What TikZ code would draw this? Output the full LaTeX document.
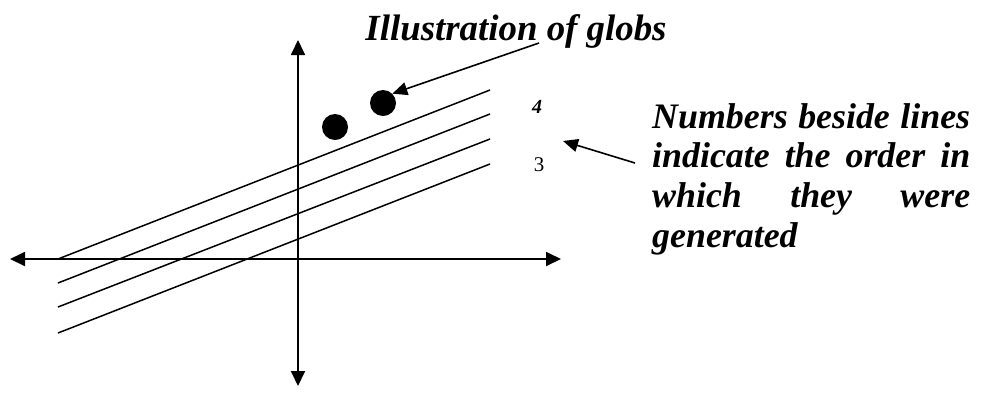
\documentclass[tikz,border=0pt]{standalone}
\usepackage{fontspec}
\setmainfont{Liberation Serif}
\usetikzlibrary{arrows.meta}
\begin{document}
\begin{tikzpicture}[x=1bp,y=-1bp,
  axis/.style={line width=1.8bp,-{Triangle[length=15bp,width=14bp]}},
  gline/.style={line width=1.5bp},
  pointer/.style={line width=1.6bp,-{Triangle[length=15bp,width=13bp]}},
  glob/.style={circle,fill=black,minimum size=26bp,inner sep=0pt}]
\useasboundingbox (0,0) rectangle (985,392);
% axes
\coordinate (O) at (298,259);
\coordinate (xl) at (10,259);
\coordinate (xr) at (561,259);
\coordinate (yt) at (298,40);
\coordinate (yb) at (298,386);
\draw[axis] (O) -- (xl);
\draw[axis] (O) -- (xr);
\draw[axis] (O) -- (yt);
\draw[axis] (O) -- (yb);
% lines
\coordinate (a1) at (58,259);  \coordinate (b1) at (490,90);
\coordinate (a2) at (58,283);  \coordinate (b2) at (490,114);
\coordinate (a3) at (58,307);  \coordinate (b3) at (490,139);
\coordinate (a4) at (58,333);  \coordinate (b4) at (490,164);
\draw[gline] (a1) -- (b1);
\draw[gline] (a2) -- (b2);
\draw[gline] (a3) -- (b3);
\draw[gline] (a4) -- (b4);
% globs
\node[glob] (g1) at (335,127) {};
\node[glob] (g2) at (383,103) {};
% numbers
\node[font=\fontsize{20}{22}\selectfont\bfseries\itshape] (n4) at (537,107) {4};
\node[font=\fontsize{21}{22}\selectfont] (n3) at (539,165) {3};
% title
\node[font=\fontsize{37}{40}\selectfont\bfseries\itshape,anchor=base,inner sep=0pt] (title) at (516,40) {Illustration of globs};
\coordinate (ts) at (539,43);
\draw[pointer] (ts) -- (g2.north east);
% note
\node[anchor=base west,inner sep=0pt,text width=318bp,align=justify,
  font=\fontsize{36}{40}\selectfont\bfseries\itshape] (note) at (652,128)
  {\hyphenpenalty=10000 Numbers beside lines\linebreak indicate the order in\linebreak which they were\linebreak generated};
\coordinate (ns) at (635,163);
\coordinate (ne) at (563,141);
\draw[pointer] (ns) -- (ne);
\end{tikzpicture}
\end{document}
